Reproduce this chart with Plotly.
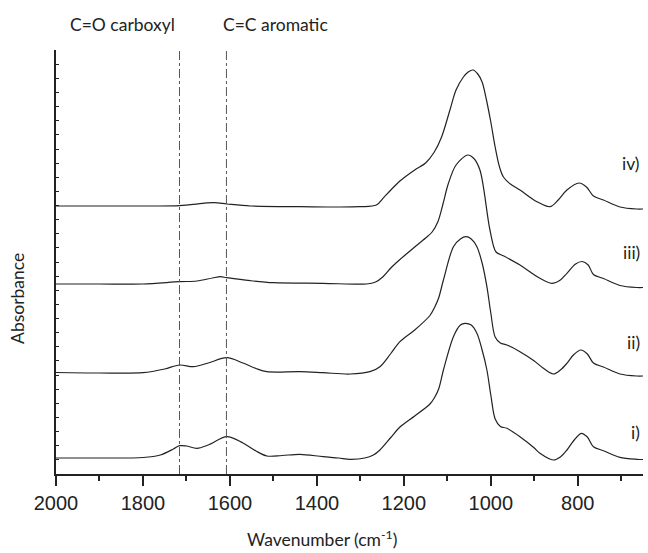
import plotly.graph_objects as go

# Wavenumbers (cm-1) and absorbance (offset, arbitrary units)
wn_i = [2000, 1900, 1800, 1760, 1730, 1716, 1700, 1676, 1650, 1607, 1570, 1540, 1515, 1480, 1439, 1386, 1350, 1324, 1290, 1270, 1255, 1230, 1209, 1175, 1140, 1130, 1120, 1109, 1086, 1070, 1059, 1045, 1032, 1020, 1009, 1000, 990, 978, 963, 933, 900, 887, 856, 840, 825, 810, 792, 778, 764, 741, 703, 664, 650]
ab_i = [0.160, 0.160, 0.165, 0.190, 0.250, 0.283, 0.280, 0.257, 0.290, 0.373, 0.310, 0.230, 0.180, 0.185, 0.197, 0.173, 0.160, 0.147, 0.160, 0.190, 0.240, 0.365, 0.470, 0.580, 0.700, 0.760, 0.850, 1.040, 1.373, 1.490, 1.507, 1.490, 1.407, 1.240, 1.040, 0.790, 0.550, 0.475, 0.457, 0.373, 0.260, 0.207, 0.140, 0.170, 0.240, 0.330, 0.407, 0.370, 0.273, 0.233, 0.167, 0.147, 0.145]

wn_ii = [2000, 1900, 1800, 1750, 1716, 1684, 1650, 1607, 1570, 1540, 1515, 1439, 1386, 1324, 1278, 1255, 1230, 1209, 1175, 1140, 1130, 1120, 1109, 1086, 1070, 1057, 1045, 1032, 1020, 1009, 1000, 990, 978, 963, 933, 900, 880, 856, 840, 825, 810, 793, 778, 764, 741, 703, 664, 650]
ab_ii = [1.015, 1.010, 1.013, 1.050, 1.090, 1.073, 1.110, 1.163, 1.110, 1.055, 1.023, 1.023, 1.013, 1.000, 1.023, 1.073, 1.205, 1.323, 1.440, 1.585, 1.660, 1.760, 1.940, 2.273, 2.350, 2.373, 2.350, 2.273, 2.110, 1.873, 1.610, 1.370, 1.310, 1.290, 1.223, 1.130, 1.060, 1.000, 1.040, 1.107, 1.190, 1.240, 1.200, 1.110, 1.070, 1.000, 0.980, 0.980]

wn_iii = [2000, 1900, 1800, 1716, 1676, 1640, 1622, 1607, 1553, 1500, 1386, 1286, 1265, 1248, 1230, 1209, 1175, 1150, 1135, 1122, 1110, 1098, 1080, 1053, 1040, 1025, 1002, 988, 970, 933, 887, 860, 840, 825, 805, 790, 776, 764, 741, 703, 664, 650]
ab_iii = [1.900, 1.900, 1.900, 1.923, 1.930, 1.960, 1.973, 1.963, 1.933, 1.913, 1.907, 1.900, 1.920, 1.973, 2.060, 2.145, 2.270, 2.360, 2.420, 2.520, 2.700, 2.900, 3.090, 3.190, 3.160, 3.040, 2.440, 2.220, 2.180, 2.090, 1.957, 1.907, 1.940, 2.007, 2.100, 2.125, 2.090, 1.995, 1.955, 1.885, 1.865, 1.865]

wn_iv = [2000, 1900, 1800, 1716, 1637, 1607, 1553, 1439, 1301, 1263, 1248, 1230, 1209, 1175, 1150, 1130, 1113, 1094, 1080, 1063, 1052, 1041, 1030, 1020, 1010, 1000, 990, 980, 971, 955, 933, 894, 864, 845, 825, 797, 780, 764, 741, 703, 664, 650]
ab_iv = [2.680, 2.680, 2.680, 2.683, 2.713, 2.700, 2.680, 2.673, 2.673, 2.690, 2.757, 2.840, 2.930, 3.040, 3.110, 3.220, 3.373, 3.640, 3.840, 3.970, 4.020, 4.040, 4.000, 3.920, 3.740, 3.520, 3.270, 3.070, 2.970, 2.900, 2.840, 2.723, 2.673, 2.740, 2.840, 2.910, 2.870, 2.780, 2.740, 2.670, 2.650, 2.650]

series_names = ["i)", "ii)", "iii)", "iv)"]
label_y = [0.42, 1.32, 2.22, 3.11]

marker_wn = [1716, 1608]
marker_labels = ["C=O carboxyl", "C=C aromatic"]
marker_label_wn = [1846, 1496]

x_ticks = [2000, 1800, 1600, 1400, 1200, 1000, 800]

fig = go.Figure()
for wn, ab, name in zip([wn_i, wn_ii, wn_iii, wn_iv], [ab_i, ab_ii, ab_iii, ab_iv], series_names):
    fig.add_trace(go.Scatter(x=wn, y=ab, mode="lines", name=name,
                             line=dict(color="#222222", width=1.2, shape="spline", smoothing=0.9),
                             showlegend=False, hoverinfo="skip"))

for wn in marker_wn:
    fig.add_shape(type="line", xref="x", yref="paper", x0=wn, x1=wn, y0=0, y1=1,
                  line=dict(color="#555555", width=1, dash="dashdot"))

font_txt = "Lato, 'Open Sans', sans-serif"
for txt, wn in zip(marker_labels, marker_label_wn):
    fig.add_annotation(x=wn, y=1.059, xref="x", yref="paper", text=txt, showarrow=False,
                       font=dict(family=font_txt, size=17.5, color="#222222"),
                       xanchor="center", yanchor="middle")

for name, yv in zip(series_names, label_y):
    fig.add_annotation(x=0.998, y=yv, xref="paper", yref="y", text=name, showarrow=False,
                       font=dict(family=font_txt, size=17.5, color="#222222"),
                       xanchor="right", yanchor="middle")

fig.add_annotation(x=1388, y=-0.151, xref="x", yref="paper",
                   text="Wavenumber (cm<sup>-1</sup>)", showarrow=False,
                   font=dict(family=font_txt, size=17.5, color="#222222"),
                   xanchor="center", yanchor="middle")
fig.add_annotation(x=-0.0647, y=0.413, xref="paper", yref="paper", text="Absorbance",
                   showarrow=False, textangle=-90,
                   font=dict(family=font_txt, size=17.5, color="#222222"),
                   xanchor="center", yanchor="middle")

fig.update_layout(
    width=648, height=553,
    margin=dict(l=56, r=5, t=50, b=79),
    paper_bgcolor="white", plot_bgcolor="white",
    xaxis=dict(range=[2000, 650], tickvals=x_ticks, ticktext=[str(v) for v in x_ticks],
               showline=True, linecolor="#222222", linewidth=1.5,
               ticks="outside", ticklen=10, tickwidth=1.5, tickcolor="#222222",
               minor=dict(ticks="outside", ticklen=5, tickwidth=1.5, tickcolor="#222222", dtick=100, tick0=2000),
               showgrid=False, zeroline=False,
               tickfont=dict(family="'Liberation Sans', Arial, sans-serif", size=20, color="#222222")),
    yaxis=dict(range=[0, 4.24], showline=True, linecolor="#222222", linewidth=1.5,
               ticks="inside", ticklen=3, tickwidth=1, tickcolor="#222222",
               tick0=0, dtick=0.1413, showticklabels=False,
               showgrid=False, zeroline=False),
)

fig.write_html("out.html")
